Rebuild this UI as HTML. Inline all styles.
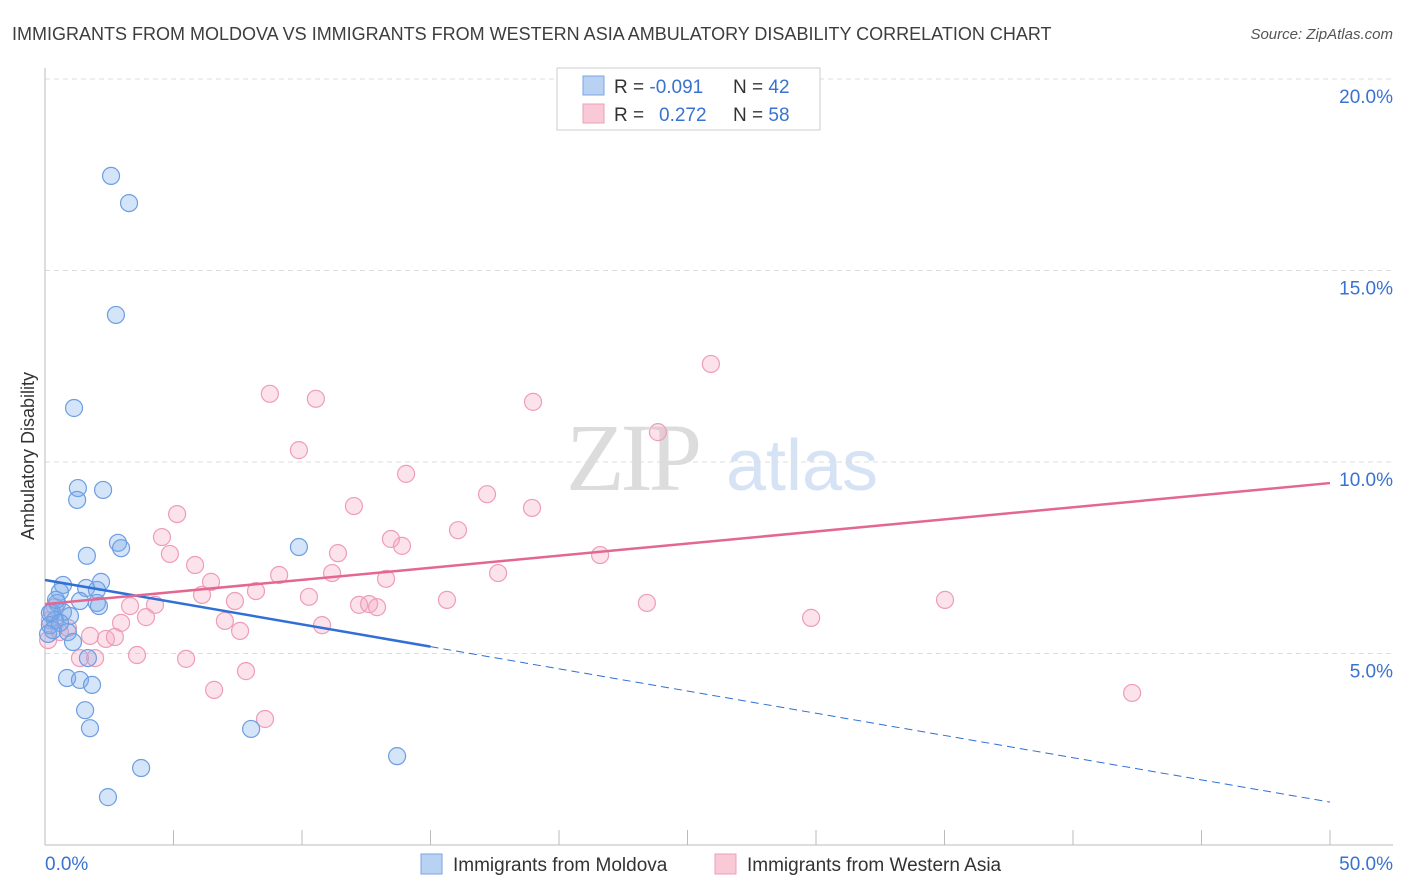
<!DOCTYPE html>
<html><head><meta charset="utf-8"><style>
body{margin:0;background:#fff;font-family:"Liberation Sans",sans-serif;}
svg{display:block}
</style></head><body>
<svg id="chart" width="1406" height="892" viewBox="0 0 1406 892">
<text x="12" y="40" font-size="18" fill="#3d3d3d">IMMIGRANTS FROM MOLDOVA VS IMMIGRANTS FROM WESTERN ASIA AMBULATORY DISABILITY CORRELATION CHART</text>
<text x="1393" y="39" font-size="15" fill="#555" font-style="italic" text-anchor="end">Source: ZipAtlas.com</text>
<g>
<text x="632" y="490" font-size="96" font-family="Liberation Serif,serif" fill="#dcdcdc" text-anchor="middle" letter-spacing="-4">ZIP</text>
<text x="802" y="490" font-size="72" fill="#d6e3f5" text-anchor="middle">atlas</text>
</g>
<text transform="translate(34,456) rotate(-90)" font-size="18" fill="#333" text-anchor="middle">Ambulatory Disability</text>
<g id="grid"></g>
<g id="axes"></g>
<g id="pts"></g>
<g id="trend"></g>
<g>
<rect x="557" y="68" width="263" height="62" fill="#fff" stroke="#ccc"/>
<rect x="583" y="76" width="21" height="19" fill="#b9d2f3" stroke="#7aa6e3"/>
<rect x="583" y="104" width="21" height="19" fill="#f9c9d7" stroke="#ee9fb8"/>
<text x="614" y="93" font-size="19" fill="#333">R = <tspan fill="#3a72d1">-0.091</tspan><tspan x="733">N = </tspan><tspan fill="#3a72d1">42</tspan></text>
<text x="614" y="121" font-size="19" fill="#333">R = <tspan x="659" fill="#3a72d1">0.272</tspan><tspan x="733">N = </tspan><tspan fill="#3a72d1">58</tspan></text>
</g>
<g>
<rect x="421" y="854" width="21" height="20" fill="#b9d2f3" stroke="#7aa6e3"/>
<text x="453" y="871" font-size="19" fill="#333">Immigrants from Moldova</text>
<rect x="715" y="854" width="21" height="20" fill="#f9c9d7" stroke="#ee9fb8"/>
<text x="747" y="871" font-size="19" fill="#333">Immigrants from Western Asia</text>
</g>
</svg>
<script>
const yTicks=[5,10,15,20];
const xTickLabels=["0.0%","50.0%"];
const blueX=[2.57,3.27,2.76,1.13,1.28,1.25,2.26,1.63,2.84,2.96,9.88,0.70,0.58,2.18,1.60,2.02,1.36,2.02,2.10,0.47,0.70,0.97,0.27,0.39,0.19,0.12,0.31,0.89,1.09,1.67,0.86,1.36,1.83,1.56,1.75,8.02,3.74,13.70,2.45,0.19,0.43,0.58];
const blueY=[17.47,16.76,13.84,11.41,9.32,9.01,9.27,7.55,7.89,7.75,7.78,6.79,6.61,6.87,6.71,6.66,6.37,6.32,6.24,6.32,6.08,5.98,6.08,5.87,5.74,5.51,5.61,5.56,5.30,4.88,4.36,4.31,4.18,3.52,3.05,3.03,2.01,2.32,1.25,6.06,6.40,5.80];
const pinkX=[25.91,8.75,10.54,18.99,23.85,9.88,14.05,17.20,12.02,18.95,5.14,16.07,4.55,13.46,13.89,4.86,11.40,21.60,5.84,9.11,11.17,17.63,13.27,6.46,8.21,6.11,10.27,7.39,15.64,35.02,23.42,3.31,4.28,12.22,12.61,12.92,3.93,7.00,29.81,10.78,2.96,7.59,0.89,1.75,2.37,2.72,1.95,1.36,3.58,5.49,7.82,6.58,8.56,42.30,0.19,0.39,0.12,0.58];
const pinkY=[12.56,11.78,11.65,11.57,10.78,10.31,9.69,9.16,8.85,8.80,8.64,8.22,8.04,7.99,7.81,7.60,7.62,7.57,7.31,7.05,7.10,7.10,6.95,6.87,6.63,6.53,6.48,6.37,6.40,6.40,6.32,6.24,6.27,6.27,6.29,6.21,5.95,5.85,5.93,5.74,5.80,5.59,5.67,5.46,5.38,5.43,4.88,4.88,4.96,4.86,4.54,4.05,3.29,3.97,5.87,6.21,5.35,5.56];
const blueTrend=[6.92,1.12]; // y at x=0 and x=50
const blueSolidEnd=15;
const pinkTrend=[6.29,9.45];

const NS="http://www.w3.org/2000/svg";
const X0=45,X1=1330,Y0=845,PPY=38.3;
const sx=v=>X0+(v/50)*(X1-X0);
const sy=v=>Y0-v*PPY;
function mk(tag,attrs,parent){const e=document.createElementNS(NS,tag);for(const k in attrs)e.setAttribute(k,attrs[k]);parent.appendChild(e);return e;}
const grid=document.getElementById('grid'),axes=document.getElementById('axes'),pts=document.getElementById('pts'),trend=document.getElementById('trend');
yTicks.forEach(t=>{
 const l=mk('line',{x1:X0,x2:1393,y1:sy(t),y2:sy(t),stroke:'#ddd','stroke-dasharray':'5,4'},grid);
 
 
 const tx=mk('text',{x:1393,y:sy(t)+24,'font-size':19,fill:'#3a72d1','text-anchor':'end'},grid);
 tx.textContent=t.toFixed(1)+'%';
 
 
});
const ax=mk('line',{x1:X0,x2:X0,y1:68,y2:Y0,stroke:'#bbb'},axes);


const bx=mk('line',{x1:X0,x2:1393,y1:Y0,y2:Y0,stroke:'#bbb'},axes);


for(let i=0;i<=10;i++){const t=mk('line',{x1:sx(i*5),x2:sx(i*5),y1:Y0-15,y2:Y0,stroke:'#bbb'},axes);
 
 }
const xl0=mk('text',{x:45,y:870,'font-size':19,fill:'#3a72d1'},axes);xl0.textContent=xTickLabels[0];


const xl1=mk('text',{x:1393,y:870,'font-size':19,fill:'#3a72d1','text-anchor':'end'},axes);xl1.textContent=xTickLabels[1];


pinkX.forEach((v,i)=>{const c=mk('circle',{cx:sx(v),cy:sy(pinkY[i]),r:8.5,fill:'rgba(245,165,190,0.32)',stroke:'#ef9db7','stroke-width':1.2},pts);
 
 });
blueX.forEach((v,i)=>{const c=mk('circle',{cx:sx(v),cy:sy(blueY[i]),r:8.5,fill:'rgba(120,170,235,0.32)',stroke:'#6d9ee2','stroke-width':1.2},pts);
 
 });
const bAt=x=>blueTrend[0]+(blueTrend[1]-blueTrend[0])*x/50;
const b1=mk('line',{x1:sx(0),y1:sy(bAt(0)),x2:sx(blueSolidEnd),y2:sy(bAt(blueSolidEnd)),stroke:'#2f6fd6','stroke-width':2.5},trend);


const b2=mk('line',{x1:sx(blueSolidEnd),y1:sy(bAt(blueSolidEnd)),x2:sx(50),y2:sy(bAt(50)),stroke:'#2f6fd6','stroke-width':1,'stroke-dasharray':'8,5'},trend);


const p1=mk('line',{x1:sx(0),y1:sy(pinkTrend[0]),x2:sx(50),y2:sy(pinkTrend[1]),stroke:'#e36791','stroke-width':2.5},trend);


</script>
</body></html>
